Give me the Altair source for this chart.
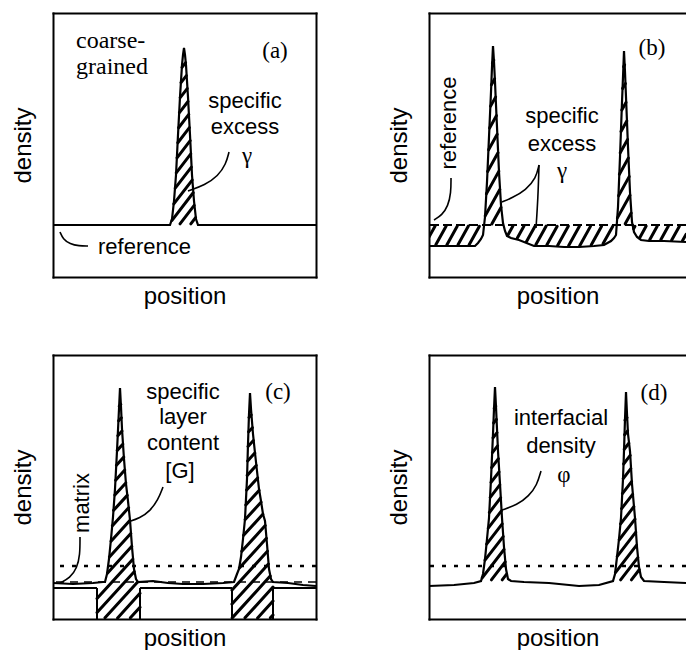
import altair as alt
import numpy as np
import pandas as pd

# ---------------- frame sizes (position / density units) ----------------
W_FULL = 263      # full panel width
W_CUT = 257       # right-hand panels are cut at the page edge
H = 264           # panel height

# ---------------- panel (a) ----------------
a_prof_x = [0, 117, 119, 121, 123, 125, 127, 129, 130, 131, 132, 133, 135, 137, 139, 141, 143, 145, 263]
a_prof_y = [52, 52, 58, 76, 102, 142, 180, 212, 222, 229, 222, 212, 180, 142, 102, 76, 58, 52, 52]
a_ref = 52
a_hatch_x = [(117, 145)]

# ---------------- panel (b) ----------------
b_prof_x = [0, 25, 46, 49, 52, 54, 56, 58, 60, 62, 63, 64, 65, 66, 67, 68, 70, 72, 74, 76,
            78, 82, 90, 105, 120, 135, 150, 165, 175, 182, 185, 187, 189, 191, 193, 194, 195,
            196, 197, 199, 201, 203, 205, 208, 212, 220, 235, 257]
b_prof_y = [31, 31, 31, 34, 38, 42, 60, 95, 140, 185, 210, 231, 215, 195, 172, 150, 105, 72, 54, 46,
            41, 39, 37, 31, 31, 30, 30, 31, 32, 36, 39, 42, 70, 120, 175, 200, 226,
            205, 180, 130, 85, 55, 45, 40, 37, 36, 36, 35]
b_ref = 52

# ---------------- panel (c) ----------------
c_prof_x = [0, 20, 40, 50, 52, 54, 56, 58, 60, 62, 64, 66, 67, 68, 69, 71, 73, 75, 77, 79,
            81, 83, 85, 100, 115, 130, 150, 170, 181, 184, 186, 188, 190, 192, 194, 195, 196,
            197, 198, 200, 202, 204, 206, 208, 210, 212, 214, 216, 218, 220, 235, 250, 263]
c_prof_y = [36, 35, 36, 37, 37, 45, 60, 80, 102, 130, 168, 210, 231, 212, 190, 160, 135, 118, 99, 72,
            50, 40, 37, 38, 36, 35, 35, 36, 37, 45, 50, 62, 80, 100, 140, 175, 205,
            226, 210, 185, 166, 148, 130, 118, 105, 98, 75, 50, 40, 37, 36, 34, 33]
c_dotted = 53
c_matrix = 37
c_box_left = [44, 179]
c_box_right = [87, 220]
c_box_top = 31

# ---------------- panel (d) ----------------
d_prof_x = [0, 25, 45, 52, 54, 56, 58, 60, 62, 64, 65, 66, 67, 68, 69, 71, 73, 75, 77, 79,
            82, 95, 120, 150, 170, 184, 186, 188, 190, 192, 194, 195, 196, 197, 198, 199, 201,
            203, 206, 208, 210, 212, 215, 235, 257]
d_prof_y = [33, 34, 36, 38, 45, 60, 80, 101, 140, 185, 210, 232, 212, 190, 168, 135, 101, 72, 50, 40,
            38, 37, 36, 33, 34, 38, 45, 62, 80, 101, 140, 168, 200, 227, 205, 185, 168,
            135, 101, 72, 52, 42, 38, 37, 36]
d_dotted = 53
d_peak_base = 38
d_hatch_x = [(52, 82), (184, 215)]

# ---------------- annotation texts ----------------
a_sans = [("specific", 192, 176), ("excess", 192, 150)]
a_sans_left = [("reference", 45, 30)]
a_serif_left = [("coarse-", 23, 236), ("grained", 23, 210)]
a_serif = [("(a)", 222, 226), ("γ", 194, 121)]

b_sans = [("specific", 133, 161), ("excess", 133, 133)]
b_rot = [("reference", 20, 154)]
b_serif = [("(b)", 223, 229), ("γ", 133, 106)]

c_sans = [("specific", 130, 227), ("layer", 130, 202), ("content", 130, 176), ("[G]", 127, 148)]
c_rot = [("matrix", 29, 116)]
c_serif = [("(c)", 225, 227)]

d_sans = [("interfacial", 132, 201), ("density", 132, 173)]
d_serif = [("(d)", 225, 226), ("φ", 135, 144)]

# ---------------- leader lines ----------------
a_leaders = {
    "gamma": [(176, 125), (173, 113), (165, 101), (152, 92), (135, 86)],
    "ref": [(7, 45), (10, 38), (17, 33), (26, 31), (35, 31)],
}
b_leaders = {
    "ref": [(22, 99), (22, 84), (19, 71), (13, 62), (5, 57)],
    "g1": [(110, 112), (107, 99), (97, 87), (83, 79), (73, 75)],
    "g2": [(110, 112), (109, 79), (107, 49)],
}
c_leaders = {
    "matrix": [(27, 82), (27, 64), (24, 51), (17, 41), (7, 36)],
    "G": [(110, 132), (105, 119), (97, 108), (87, 101), (75, 97)],
}
d_leaders = {
    "phi": [(112, 148), (108, 134), (100, 123), (88, 114), (73, 109)],
}


# ---------------- helpers ----------------
def hatch(px, py, lo_x, lo_y, ranges, slope=1.3, step=11.0):
    rows = []
    for x0, x1 in ranges:
        xs = np.arange(x0, x1 + 0.001, 0.2)
        a = np.interp(xs, px, py)
        b = np.interp(xs, lo_x, lo_y)
        low = np.minimum(a, b)
        up = np.maximum(a, b)
        cmin = low.min() - slope * x1
        cmax = up.max() - slope * x0
        for c in np.arange(np.floor(cmin / step) * step, cmax + step, step):
            yl = slope * xs + c
            inside = (yl >= low + 1.0) & (yl <= up - 1.0)
            if not inside.any():
                continue
            edges = np.flatnonzero(np.diff(np.concatenate([[0], inside.astype(int), [0]])))
            for s, e in zip(edges[::2], edges[1::2] - 1):
                if e - s < 5:
                    continue
                rows.append({"x": xs[s], "y": yl[s], "x2": xs[e], "y2": yl[e]})
    return pd.DataFrame(rows, columns=["x", "y", "x2", "y2"])


def leaders_df(d):
    rows = []
    for k, pts in d.items():
        for i, (x, y) in enumerate(pts):
            rows.append({"id": k, "o": i, "x": x, "y": y})
    return pd.DataFrame(rows)


def texts_df(lst):
    return pd.DataFrame([{"t": t, "x": x, "y": y} for t, x, y in lst])


def panel(prof_x, prof_y, width, hatch_data, leaders, sans=(), sans_left=(), serif=(),
          serif_left=(), rot=(), hlines=(), segs=None, right_axis=True):
    xs = alt.Scale(domain=[0, width], nice=False, zero=False)
    ys = alt.Scale(domain=[0, H], nice=False, zero=False)
    X = lambda f="x": alt.X(f"{f}:Q", scale=xs, axis=None)
    Y = lambda f="y": alt.Y(f"{f}:Q", scale=ys, axis=None)
    prof = pd.DataFrame({"x": prof_x, "y": prof_y})
    layers = []
    layers.append(
        alt.Chart(prof).mark_line(color="black", strokeWidth=2.2, clip=True).encode(
            x=alt.X("x:Q", scale=xs, axis=alt.Axis(title="position", orient="bottom", titlePadding=7)),
            y=alt.Y("y:Q", scale=ys, axis=alt.Axis(title="density", orient="left", titlePadding=18)),
        )
    )
    layers.append(
        alt.Chart(prof).mark_line(opacity=0).encode(
            x=alt.X("x:Q", scale=xs, axis=alt.Axis(title=None, orient="top")),
            y=alt.Y("y:Q", scale=ys,
                    axis=alt.Axis(title=None, orient="right") if right_axis else None),
        )
    )
    for (yv, dash, sw) in hlines:
        layers.append(
            alt.Chart(pd.DataFrame({"y": [yv]})).mark_rule(
                color="black", strokeWidth=sw, strokeDash=dash, clip=True
            ).encode(y=Y())
        )
    if segs is not None and len(segs):
        layers.append(
            alt.Chart(segs).mark_rule(color="black", strokeWidth=2, clip=True).encode(
                x=X(), y=Y(), x2="x2:Q", y2="y2:Q")
        )
    if len(hatch_data):
        layers.append(
            alt.Chart(hatch_data).mark_rule(color="black", strokeWidth=3, strokeCap="round",
                                            clip=True).encode(
                x=X(), y=Y(), x2="x2:Q", y2="y2:Q")
        )
    layers.append(
        alt.Chart(leaders_df(leaders)).mark_line(color="black", strokeWidth=1.6,
                                                 interpolate="basis").encode(
            x=X(), y=Y(), detail="id:N", order="o:Q")
    )
    groups = [
        (sans, dict(font="Liberation Sans", fontSize=22, align="center")),
        (sans_left, dict(font="Liberation Sans", fontSize=22, align="left")),
        (serif, dict(font="Liberation Serif", fontSize=23, align="center")),
        (serif_left, dict(font="Liberation Serif", fontSize=24, align="left")),
        (rot, dict(font="Liberation Sans", fontSize=22, align="center", angle=270)),
    ]
    for lst, kw in groups:
        if lst:
            layers.append(
                alt.Chart(texts_df(lst)).mark_text(color="black", baseline="middle", **kw).encode(
                    x=X(), y=Y(), text="t:N")
            )
    return alt.layer(*layers).resolve_axis(x="independent", y="independent").properties(
        width=width, height=H)


# ---------------- build panels ----------------
ha = hatch(a_prof_x, a_prof_y, [0, W_FULL], [a_ref, a_ref], a_hatch_x, slope=1.3, step=14.0)
hb = hatch(b_prof_x, b_prof_y, [0, W_CUT], [b_ref, b_ref], [(0, W_CUT)], slope=1.8, step=20.0)
hc = hatch(c_prof_x, c_prof_y, [0, W_FULL], [0, 0],
           list(zip(c_box_left, c_box_right)), slope=1.1, step=14.0)
hd = hatch(d_prof_x, d_prof_y, [0, W_CUT], [d_peak_base, d_peak_base], d_hatch_x,
           slope=1.3, step=14.0)

# box outline of panel (c): horizontal pieces between boxes + vertical box edges
c_seg_rows = []
edges_x = [0] + [v for pair in zip(c_box_left, c_box_right) for v in pair] + [W_FULL]
for i in range(0, len(edges_x), 2):
    c_seg_rows.append({"x": edges_x[i], "y": c_box_top, "x2": edges_x[i + 1], "y2": c_box_top})
for v in c_box_left + c_box_right:
    c_seg_rows.append({"x": v, "y": 0, "x2": v, "y2": c_box_top})
c_segs = pd.DataFrame(c_seg_rows)

pa = panel(a_prof_x, a_prof_y, W_FULL, ha, a_leaders, sans=a_sans, sans_left=a_sans_left,
           serif=a_serif, serif_left=a_serif_left)
pb = panel(b_prof_x, b_prof_y, W_CUT, hb, b_leaders, sans=b_sans, serif=b_serif, rot=b_rot,
           hlines=[(b_ref, [9, 4], 2.2)], right_axis=False)
pc = panel(c_prof_x, c_prof_y, W_FULL, hc, c_leaders, sans=c_sans, serif=c_serif, rot=c_rot,
           hlines=[(c_dotted, [4, 8], 2.4), (c_matrix, [8, 6], 1.6)], segs=c_segs)
pd_ = panel(d_prof_x, d_prof_y, W_CUT, hd, d_leaders, sans=d_sans, serif=d_serif,
            hlines=[(d_dotted, [4, 8], 2.4)], right_axis=False)

chart = alt.vconcat(
    alt.hconcat(pa, pb, spacing=71),
    alt.hconcat(pc, pd_, spacing=71),
    spacing=47,
).properties(
    padding={"left": 11, "top": 13, "right": 0, "bottom": 0},
    background="white",
).configure_view(stroke=None).configure_axis(
    domainColor="black", domainWidth=2, domainCap="square", ticks=False, labels=False,
    grid=False, titleFont="Liberation Sans", titleFontSize=24, titleFontWeight="normal",
    titleColor="black",
)

chart.save("out.html", embed_options={"renderer": "svg", "actions": False})
